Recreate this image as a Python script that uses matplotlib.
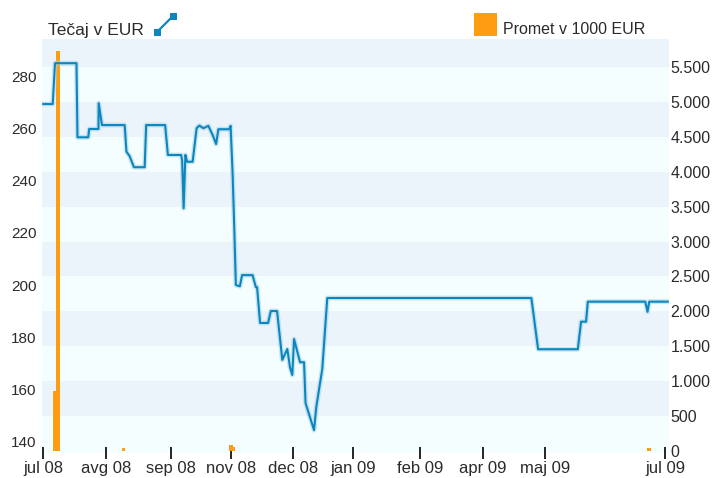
import matplotlib
matplotlib.use('Agg')
import matplotlib.pyplot as plt
from matplotlib.ticker import FuncFormatter
from matplotlib.patches import Rectangle
from matplotlib.lines import Line2D

plt.rcParams['font.family'] = ['Liberation Sans', 'DejaVu Sans']

# price (trading-day index, EUR)
price_x = [0, 3.8, 4.7, 13.3, 13.7, 18.0, 18.4, 22.1, 22.2, 23.5, 32.6, 33.3, 34.6, 36.3,
           40.6, 41.2, 48.8, 49.9, 55.2, 55.6, 56.2, 56.9, 57.6, 59.8, 61.4, 62.5, 64.1,
           66.1, 67.8, 69.2, 70.1, 74.5, 75.0, 75.8, 76.5, 77.1, 78.7, 79.6, 83.8, 85.1,
           85.6, 86.8, 90.0, 91.1, 93.6, 95.7, 97.7, 98.8, 99.7, 100.4, 102.8, 104.4,
           105.0, 108.4, 109.3, 111.7, 113.7, 195.4, 198.1, 214.0, 215.3, 217.3, 218.0,
           241.0, 241.9, 242.6, 250.0]
price_y = [269.6, 269.6, 285.3, 285.3, 256.8, 256.8, 260.0, 260.0, 269.9, 261.5, 261.5,
           251.3, 249.5, 245.3, 245.3, 261.5, 261.5, 250.0, 250.0, 248.0, 229.5, 250.0,
           247.4, 247.4, 260.3, 261.3, 260.3, 261.2, 257.7, 254.2, 259.9, 259.9, 261.2,
           243.0, 221.0, 200.0, 199.5, 203.8, 203.8, 199.2, 199.2, 185.4, 185.4, 190.0,
           190.0, 171.2, 175.4, 168.2, 165.4, 179.2, 170.3, 170.3, 154.6, 144.2, 153.1,
           167.7, 195.0, 195.0, 175.3, 175.3, 185.9, 185.9, 193.6, 193.6, 189.7, 193.6,
           193.6]

# turnover in 1000 EUR
vol_x = [4.8, 6.0, 32.2, 75.2, 76.2, 242.4]
vol_y = [855, 5726, 45, 90, 60, 40]

tick_pos = [0, 25, 51, 75, 100, 124, 151, 176, 201, 249]
tick_lab = ['jul 08', 'avg 08', 'sep 08', 'nov 08', 'dec 08', 'jan 09', 'feb 09',
            'apr 09', 'maj 09', 'jul 09']
left_ticks = [140, 160, 180, 200, 220, 240, 260, 280]
right_ticks = list(range(0, 5501, 500))

BLUE = '#0d86bd'
ORANGE = '#ff9c12'
TXT = '#2b2b2b'

fig = plt.figure(figsize=(7.14, 4.78), dpi=100)
ax = fig.add_axes([42/714, 1-453/478, 627/714, 414/478])
ax2 = ax.twinx()

# bands
ax.set_ylim(-29, 5901)
edges = [-29] + right_ticks[1:] + [5901]
for i in range(len(edges)-1):
    col = '#f5fefe' if i % 2 == 0 else '#ebf3fb'
    ax.axhspan(edges[i], edges[i+1], color=col, lw=0, zorder=0)

ax.bar(vol_x, vol_y, width=1.4, color=ORANGE, lw=0, zorder=2)
ax.set_xlim(-0.5, 250.5)
ax.yaxis.tick_right()
ax.set_yticks(right_ticks)
ax.yaxis.set_major_formatter(FuncFormatter(lambda v, p: f'{v:,.0f}'.replace(',', '.')))
ax.tick_params(axis='y', length=0, pad=1, labelsize=11.5, labelcolor=TXT)

ax2.plot(price_x, price_y, color='#a6d6ea', lw=3.5, alpha=0.6, solid_joinstyle='round')
ax2.plot(price_x, price_y, color=BLUE, lw=1.5)
ax2.set_ylim(135.4, 294.6)
ax2.yaxis.tick_left()
ax2.set_yticks(left_ticks)
ax2.tick_params(axis='y', length=0, pad=4, labelsize=11, labelcolor=TXT)

ax.set_xticks(tick_pos)
ax.set_xticklabels(tick_lab)
ax.tick_params(axis='x', direction='inout', length=8, width=1.2, color='black',
               labelsize=12, labelcolor=TXT, pad=2)

for a in (ax, ax2):
    for s in a.spines.values():
        s.set_visible(False)

# legend row
fig.text(48/714, 1-35/478, 'Tečaj v EUR', fontsize=12.5, color=TXT, va='baseline')
fig.add_artist(Line2D([157/714, 173/714], [1-32/478, 1-16/478], color=BLUE, lw=1.6))
for cx, cy in [(157, 32), (173, 16)]:
    fig.add_artist(Rectangle(((cx-3.5)/714, 1-(cy+3.5)/478), 7/714, 7/478,
                             color=BLUE, lw=0))
fig.add_artist(Rectangle((474/714, 1-36/478), 23/714, 23/478, color=ORANGE, lw=0))
fig.text(503/714, 1-34/478, 'Promet v 1000 EUR', fontsize=11.5, color=TXT, va='baseline')

fig.savefig('out.png', dpi=100)
